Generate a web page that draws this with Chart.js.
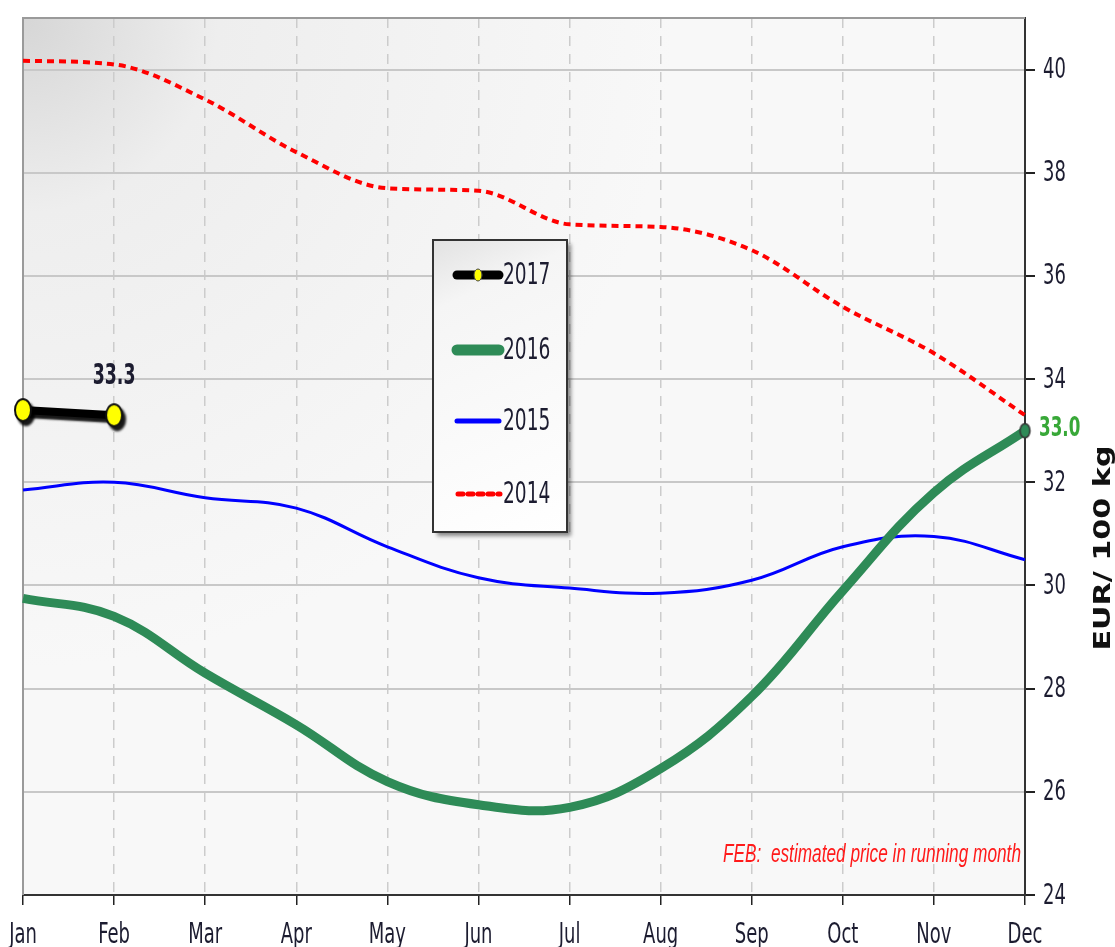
<!DOCTYPE html>
<html>
<head>
<meta charset="utf-8">
<script src="https://cdn.jsdelivr.net/npm/chart.js@4"></script>
<style>
  html, body { margin: 0; padding: 0; background: #ffffff; }
  #wrap { width: 1115px; height: 947px; }
</style>
</head>
<body>
<div id="wrap"><canvas id="myChart" width="1115" height="947"></canvas></div>
<script>
// Chart data
var months = ["Jan", "Feb", "Mar", "Apr", "May", "Jun", "Jul", "Aug", "Sep", "Oct", "Nov", "Dec"];
var yTicks = [24, 26, 28, 30, 32, 34, 36, 38, 40];
var values2017 = [33.4, 33.3];
var values2016 = [29.75, 29.4, 28.3, 27.3, 26.2, 25.75, 25.7, 26.45, 27.85, 29.9, 31.8, 33.0];
var values2015 = [31.85, 32.0, 31.7, 31.5, 30.75, 30.15, 29.95, 29.85, 30.1, 30.75, 30.95, 30.5];
var values2014 = [40.17, 40.1, 39.42, 38.4, 37.7, 37.65, 37.0, 36.95, 36.5, 35.4, 34.5, 33.3];
var noteText = "FEB:  estimated price in running month";
var yTitle = "EUR/ 100 kg";

var FONT = "'DejaVu Sans', sans-serif";
var TEXT_COLOR = "#1c1c30";
var SQUISH = 0.62;

// draw text squeezed horizontally (the reference uses a narrow face)
function drawNarrow(c, text, x, y, font, sx, align, baseline, color) {
  c.save();
  c.font = font;
  c.fillStyle = color;
  c.textBaseline = baseline;
  c.textAlign = "left";
  var w = c.measureText(text).width * sx;
  var x0 = x;
  if (align === "center") x0 = x - w / 2;
  if (align === "right") x0 = x - w;
  c.translate(x0, y);
  c.scale(sx, 1);
  c.fillText(text, 0, 0);
  c.restore();
}

// point images (tall ellipses)
function makeEllipse(rx, ry, fill, stroke, lw) {
  var cv = document.createElement("canvas");
  cv.width = Math.ceil(rx * 2 + lw * 2 + 2);
  cv.height = Math.ceil(ry * 2 + lw * 2 + 2);
  var c = cv.getContext("2d");
  c.beginPath();
  c.ellipse(cv.width / 2, cv.height / 2, rx, ry, 0, 0, Math.PI * 2);
  c.fillStyle = fill;
  c.fill();
  c.lineWidth = lw;
  c.strokeStyle = stroke;
  c.stroke();
  return cv;
}
var yellowPoint = makeEllipse(8, 11, "#ffff00", "#111", 2);
var greenPoint = makeEllipse(5, 7, "#2e8b57", "#333", 1.5);

// background of the plot area
var backgroundPlugin = {
  id: "plotBackground",
  beforeDraw: function (chart) {
    var c = chart.ctx, a = chart.chartArea;
    c.save();
    var g = c.createRadialGradient(a.left, a.top, 0, a.left, a.top, 650);
    g.addColorStop(0, "#d6d6d6");
    g.addColorStop(0.3, "#eeeeee");
    g.addColorStop(1, "#f8f8f8");
    c.fillStyle = g;
    c.fillRect(a.left, a.top, a.right - a.left, a.bottom - a.top);
    c.restore();
  },
  beforeDatasetsDraw: function (chart) {
    var c = chart.ctx, a = chart.chartArea;
    c.save();
    c.strokeStyle = "#9a9a9a";
    c.lineWidth = 2;
    c.beginPath();
    c.moveTo(a.left, a.bottom);
    c.lineTo(a.left, a.top);
    c.lineTo(a.right, a.top);
    c.stroke();
    c.restore();
  }
};

// shadow under the 2017 line
var shadowPlugin = {
  id: "lineShadow",
  beforeDatasetDraw: function (chart, args) {
    if (args.index === 0) {
      var c = chart.ctx;
      c.save();
      c.shadowColor = "rgba(0,0,0,0.9)";
      c.shadowOffsetX = 3;
      c.shadowOffsetY = 4;
      c.shadowBlur = 2;
    }
  },
  afterDatasetDraw: function (chart, args) {
    if (args.index === 0) {
      chart.ctx.restore();
    }
  }
};

// tick labels, value labels, legend box, axis title, note
var extrasPlugin = {
  id: "extras",
  afterDraw: function (chart) {
    var c = chart.ctx, a = chart.chartArea;
    var xs = chart.scales.x, ys = chart.scales.y;

    // tick labels
    months.forEach(function (m, i) {
      drawNarrow(c, m, xs.getPixelForTick(i), 943, "29px " + FONT, SQUISH, "center", "alphabetic", TEXT_COLOR);
    });
    yTicks.forEach(function (v) {
      drawNarrow(c, String(v), 1043, ys.getPixelForValue(v) + 1, "29px " + FONT, SQUISH, "left", "middle", TEXT_COLOR);
    });

    // value labels
    var p = chart.getDatasetMeta(0).data[1];
    drawNarrow(c, values2017[1].toFixed(1), p.x, p.y - 31, "bold 28px " + FONT, SQUISH, "center", "alphabetic", TEXT_COLOR);
    var m1 = chart.getDatasetMeta(1).data;
    var q = m1[m1.length - 1];
    drawNarrow(c, values2016[values2016.length - 1].toFixed(1), 1039, q.y - 2, "bold 27px " + FONT, SQUISH, "left", "middle", "#38a838");

    // y axis title
    c.save();
    c.translate(1104, 548);
    c.rotate(-Math.PI / 2);
    c.scale(1, 0.78);
    c.font = "bold 30px " + FONT;
    c.fillStyle = "#111";
    c.textAlign = "center";
    c.textBaseline = "middle";
    var tw = c.measureText(yTitle).width;
    c.scale(205 / tw, 1);
    c.fillText(yTitle, 0, 0);
    c.restore();

    // note
    c.save();
    c.font = "italic 26px 'Liberation Sans', Arial, sans-serif";
    var nw = c.measureText(noteText).width;
    c.restore();
    drawNarrow(c, noteText, 1021, 862, "italic 26px 'Liberation Sans', Arial, sans-serif", 298 / nw, "right", "alphabetic", "#ff1a1a");

    // legend box
    var bx = 433, by = 240, bw = 134, bh = 292;
    c.save();
    c.shadowColor = "rgba(0,0,0,0.45)";
    c.shadowOffsetX = 4;
    c.shadowOffsetY = 4;
    c.shadowBlur = 4;
    var lg = c.createLinearGradient(bx, by, bx + bw, by + bh);
    lg.addColorStop(0, "#e2e2e2");
    lg.addColorStop(0.2, "#f5f5f5");
    lg.addColorStop(1, "#ffffff");
    c.fillStyle = lg;
    c.fillRect(bx, by, bw, bh);
    c.restore();
    c.save();
    c.strokeStyle = "#333";
    c.lineWidth = 2;
    c.strokeRect(bx, by, bw, bh);
    c.restore();

    var rows = [275, 350, 421, 494];
    chart.data.datasets.forEach(function (ds, i) {
      var y = rows[i];
      c.save();
      c.lineCap = "round";
      c.strokeStyle = ds.borderColor;
      c.lineWidth = [9, 11, 5, 5][i];
      c.setLineDash(i === 3 ? [5, 5] : []);
      c.beginPath();
      c.moveTo(i === 3 ? 458 : 457, y);
      c.lineTo(i === 3 ? 500 : 499, y);
      c.stroke();
      if (i === 0) {
        c.setLineDash([]);
        c.fillStyle = "#ffff00";
        c.strokeStyle = "#444";
        c.lineWidth = 1;
        c.beginPath();
        c.ellipse(478, y, 4, 6, 0, 0, Math.PI * 2);
        c.fill();
        c.stroke();
      }
      c.restore();
      drawNarrow(c, ds.label, 503, y + 1, "30px " + FONT, SQUISH, "left", "middle", TEXT_COLOR);
    });
  }
};

var ctx = document.getElementById("myChart").getContext("2d");
var lastPointStyle = values2016.map(function (v, i) { return i === values2016.length - 1 ? greenPoint : false; });

var myChart = new Chart(ctx, {
  type: "line",
  data: {
    labels: months,
    datasets: [
      {
        label: "2017",
        data: values2017,
        borderColor: "#000000",
        borderWidth: 8,
        pointStyle: yellowPoint,
        pointRadius: 10,
        tension: 0,
        order: 0
      },
      {
        label: "2016",
        data: values2016,
        borderColor: "#2e8b57",
        borderWidth: 9,
        pointStyle: lastPointStyle,
        pointRadius: 6,
        tension: 0.4,
        order: 1
      },
      {
        label: "2015",
        data: values2015,
        borderColor: "#0000ff",
        borderWidth: 3,
        pointRadius: 0,
        tension: 0.4,
        order: 2
      },
      {
        label: "2014",
        data: values2014,
        borderColor: "#ff0000",
        borderWidth: 4,
        borderDash: [7, 5],
        pointRadius: 0,
        cubicInterpolationMode: "monotone",
        order: 3
      }
    ]
  },
  options: {
    responsive: false,
    animation: false,
    layout: { padding: { left: 23, top: 11, right: 0, bottom: 0 } },
    plugins: {
      legend: { display: false },
      tooltip: { enabled: false }
    },
    scales: {
      x: {
        offset: false,
        grid: {
          color: "#cccccc",
          lineWidth: 1.5,
          tickColor: "#222",
          tickLength: 10
        },
        border: { display: true, color: "#333", width: 2, dash: [10, 8] },
        ticks: { display: false, autoSkip: false },
        afterFit: function (scale) { scale.height = 52; }
      },
      y: {
        position: "right",
        min: 24,
        max: 41,
        afterBuildTicks: function (scale) {
          scale.ticks = yTicks.map(function (v) { return { value: v }; });
        },
        grid: {
          color: "#c8c8c8",
          lineWidth: 2,
          tickColor: "#222",
          tickLength: 10
        },
        border: { display: true, color: "#333", width: 2 },
        ticks: { display: false },
        afterFit: function (scale) { scale.width = 90; }
      }
    }
  },
  plugins: [backgroundPlugin, shadowPlugin, extrasPlugin]
});
</script>
</body>
</html>
